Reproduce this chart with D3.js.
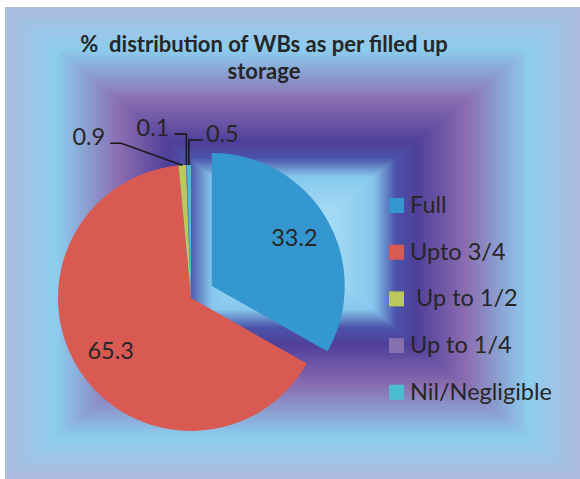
<!DOCTYPE html>
<html>
<head>
<meta charset="utf-8">
<script src="https://cdn.jsdelivr.net/npm/d3@7"></script>
<style>
  html, body { margin: 0; padding: 0; background: #fff; }
  text { font-family: Lato, "Open Sans", sans-serif; fill: #262626; }
</style>
</head>
<body>
<div id="chart"></div>
<script>
// chart data
const categories = ["Full", "Upto 3/4", " Up to 1/2", "Up to 1/4", "Nil/Negligible"];
const values = [33.2, 65.3, 0.9, 0.1, 0.5];
const valueLabels = ["33.2", "65.3", "0.9", "0.1", "0.5"];
const colors = ["#3497D0", "#D95A52", "#BAC95A", "#8671B0", "#4ABDD2"];
const titleLines = ["%  distribution of WBs as per filled up", "storage"];

// sizes
const totalWidth = 580, totalHeight = 479;
const box = { x: 5, y: 7, w: 575, h: 472 };
const cx = 191, cy = 298, radius = 133, explode = 24;

const svg = d3.select("#chart")
  .append("svg")
  .attr("width", totalWidth)
  .attr("height", totalHeight);

// rectangular "from centre" gradient: four triangles, each with a linear gradient to the middle
const gStops = [
  [0, "#AEBCDF"], [0.18, "#8CCDEE"], [0.40, "#8A6CB0"], [0.57, "#4F3F9A"],
  [0.64, "#4B52A8"], [0.72, "#86C8EE"], [0.86, "#A3DAF3"], [1, "#B2E1F6"]
];
const mx = box.x + box.w / 2, my = box.y + box.h / 2;
const x0 = box.x, x1 = box.x + box.w, y0 = box.y, y1 = box.y + box.h;
const sides = [
  { id: "gTop", pts: [[x0, y0], [x1, y0], [mx, my]], from: [mx, y0], to: [mx, my] },
  { id: "gBottom", pts: [[x0, y1], [x1, y1], [mx, my]], from: [mx, y1], to: [mx, my] },
  { id: "gLeft", pts: [[x0, y0], [x0, y1], [mx, my]], from: [x0, my], to: [mx, my] },
  { id: "gRight", pts: [[x1, y0], [x1, y1], [mx, my]], from: [x1, my], to: [mx, my] }
];
const defs = svg.append("defs");
sides.forEach(s => {
  const lg = defs.append("linearGradient")
    .attr("id", s.id)
    .attr("gradientUnits", "userSpaceOnUse")
    .attr("x1", s.from[0]).attr("y1", s.from[1])
    .attr("x2", s.to[0]).attr("y2", s.to[1]);
  lg.selectAll("stop").data(gStops).enter().append("stop")
    .attr("offset", d => d[0])
    .attr("stop-color", d => d[1]);
});
svg.selectAll("polygon.bg")
  .data(sides)
  .enter()
  .append("polygon")
  .attr("class", "bg")
  .attr("shape-rendering", "crispEdges")
  .attr("points", d => d.pts.map(p => p.join(",")).join(" "))
  .attr("fill", d => "url(#" + d.id + ")");

// title
svg.append("g")
  .selectAll("text")
  .data(titleLines)
  .enter()
  .append("text")
  .attr("x", 264)
  .attr("y", (d, i) => 52 + i * 27)
  .attr("text-anchor", "middle")
  .style("font-weight", "bold")
  .style("font-size", "22px")
  .style("white-space", "pre")
  .text(d => d);

// pie
const pie = d3.pie().sort(null).value(d => d);
const arcs = pie(values);
const arc = d3.arc().innerRadius(0).outerRadius(radius);
const labelArc = d3.arc().innerRadius(radius * 0.72).outerRadius(radius * 0.72);
const edgeArc = d3.arc().innerRadius(radius).outerRadius(radius);

// shift for the pulled out slice
function offset(d, i) {
  if (i !== 0) return [0, 0];
  const a = (d.startAngle + d.endAngle) / 2;
  return [Math.sin(a) * explode, -Math.cos(a) * explode];
}

const pieG = svg.append("g").attr("transform", "translate(" + cx + "," + cy + ")");

pieG.selectAll("path.slice")
  .data(arcs)
  .enter()
  .append("path")
  .attr("class", "slice")
  .attr("transform", (d, i) => "translate(" + offset(d, i) + ")")
  .attr("d", arc)
  .attr("fill", (d, i) => colors[i]);

// labels inside the two big slices
pieG.selectAll("text.inside")
  .data(arcs.filter(d => d.value > 10))
  .enter()
  .append("text")
  .attr("class", "inside")
  .attr("transform", d => {
    const i = d.index, c = labelArc.centroid(d), o = offset(d, i);
    return "translate(" + (c[0] + o[0]) + "," + (c[1] + o[1]) + ")";
  })
  .attr("text-anchor", "middle")
  .attr("dy", "0.36em")
  .style("font-size", "23.5px")
  .text(d => valueLabels[d.index]);

// leader lines for the thin slices: elbow x, end x, y (relative to the arc edge point)
const leaders = [null, null, { elbow: -61, end: -72, dy: -22 }, { elbow: 0, end: -12, dy: -31 }, { elbow: 0, end: 14, dy: -25 }];
const small = arcs.filter(d => leaders[d.index]);

pieG.selectAll("polyline.leader")
  .data(small)
  .enter()
  .append("polyline")
  .attr("class", "leader")
  .attr("fill", "none")
  .attr("stroke", "#1a1a1a")
  .attr("stroke-width", 1.6)
  .attr("points", d => {
    const p = edgeArc.centroid(d), L = leaders[d.index];
    return [p, [p[0] + L.elbow, p[1] + L.dy], [p[0] + L.end, p[1] + L.dy]].map(q => q.join(",")).join(" ");
  });

pieG.selectAll("text.outside")
  .data(small)
  .enter()
  .append("text")
  .attr("class", "outside")
  .attr("x", d => {
    const p = edgeArc.centroid(d), L = leaders[d.index];
    return p[0] + L.end + (L.end < L.elbow ? -5 : 3);
  })
  .attr("y", d => edgeArc.centroid(d)[1] + leaders[d.index].dy + 1.5)
  .attr("text-anchor", d => leaders[d.index].end < leaders[d.index].elbow ? "end" : "start")
  .style("font-size", "23.5px")
  .text(d => valueLabels[d.index]);

// legend
const legend = svg.append("g").attr("transform", "translate(389,198)");
const rowY = d3.scaleBand().domain(categories).range([0, 233.5]);

const rows = legend.selectAll("g.row")
  .data(categories)
  .enter()
  .append("g")
  .attr("class", "row")
  .attr("transform", d => "translate(0," + rowY(d) + ")");

rows.append("rect")
  .attr("width", 15)
  .attr("height", 15)
  .attr("fill", (d, i) => colors[i]);

rows.append("text")
  .attr("x", 21)
  .attr("y", 15)
  .style("font-size", "23.5px")
  .style("white-space", "pre")
  .text(d => d);
</script>
</body>
</html>
